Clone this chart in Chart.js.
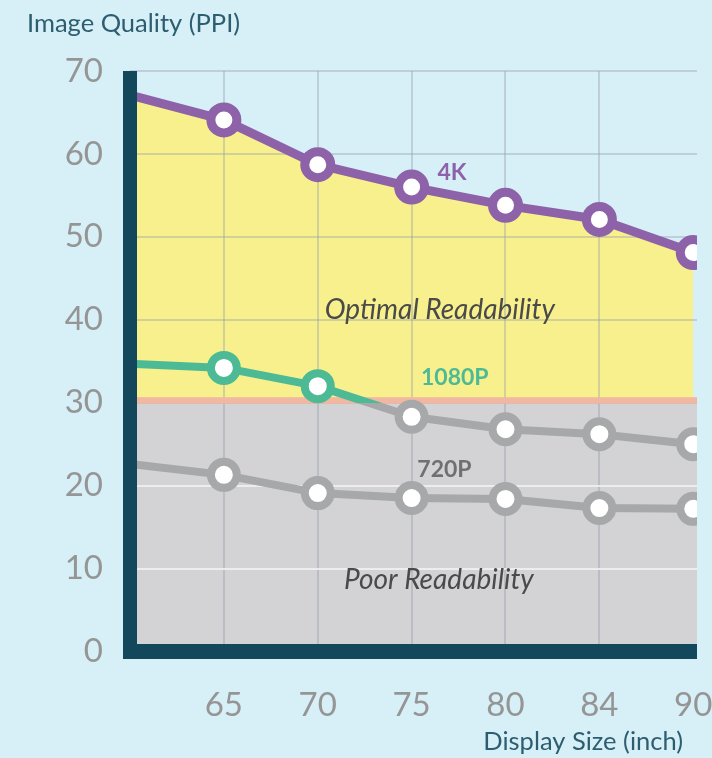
<!DOCTYPE html>
<html>
<head>
<meta charset="utf-8">
<script src="https://cdn.jsdelivr.net/npm/chart.js@4/dist/chart.umd.min.js"></script>
<style>
  html, body { margin: 0; padding: 0; background: #d7eff7; }
  canvas { display: block; }
</style>
</head>
<body>
<canvas id="myChart" width="712" height="758"></canvas>
<script>
// display size categories (first slot is the unlabeled start of the axis)
const sizes = ["", "65", "70", "75", "80", "84", "90"];
const ppi4k = [67.1, 64.1, 58.7, 56.0, 53.8, 52.1, 48.1];
const ppi1080 = [34.7, 34.2, 32.0, 28.3, 26.8, 26.2, 25.0];
const ppi720 = [22.6, 21.3, 19.1, 18.5, 18.4, 17.3, 17.2];
const yTicks = [0, 10, 20, 30, 40, 50, 60, 70];
const limiteLeitura = 30;

const roxo = "#8d62a9";
const verde = "#4dba96";
const cinza = "#a7a8aa";
const amarelo = "#f7f08c";
const cinzaFundo = "#d3d3d5";
const salmao = "#f1b7a0";
const eixo = "#13475c";

function pontos(valores) {
  return valores.map((v, i) => ({ x: i, y: v }));
}

function raios(valores) {
  return valores.map((v, i) => (i === 0 ? 0 : 13));
}

// green above the readability limit, gray below it
function cor1080(context) {
  const chart = context.chart;
  const area = chart.chartArea;
  if (!area) return verde;
  const y30 = chart.scales.y.getPixelForValue(limiteLeitura);
  const g = chart.ctx.createLinearGradient(0, area.top, 0, area.bottom);
  const s = Math.min(1, Math.max(0, (y30 - area.top) / (area.bottom - area.top)));
  g.addColorStop(0, verde);
  g.addColorStop(s, verde);
  g.addColorStop(s, cinza);
  g.addColorStop(1, cinza);
  return g;
}

const decoracao = {
  id: "decoracao",
  beforeDraw(chart) {
    const { ctx, chartArea: a, scales } = chart;
    const y30 = scales.y.getPixelForValue(limiteLeitura);
    const y0 = scales.y.getPixelForValue(0);
    ctx.save();
    ctx.fillStyle = cinzaFundo;
    ctx.fillRect(a.left, y30, a.right - a.left, y0 - y30);
    ctx.restore();
  },
  beforeDatasetsDraw(chart) {
    const { ctx, chartArea: a, scales } = chart;
    const y30 = scales.y.getPixelForValue(limiteLeitura);
    ctx.save();
    ctx.fillStyle = salmao;
    ctx.fillRect(a.left, y30 - 5.5, a.right - a.left, 6.5);
    ctx.restore();
  },
  afterDatasetsDraw(chart) {
    const { ctx, chartArea: a, scales } = chart;
    const x = scales.x;
    const y = scales.y;
    ctx.save();

    // thick axis bars
    ctx.fillStyle = eixo;
    ctx.fillRect(a.left - 7, a.top, 14, a.bottom - a.top + 7.5);
    ctx.fillRect(a.left - 7, a.bottom - 7.5, a.right - a.left + 7, 15);

    // series and region labels
    ctx.textAlign = "center";
    ctx.textBaseline = "middle";
    ctx.font = "bold 23px Lato";
    ctx.fillStyle = roxo;
    ctx.fillText("4K", x.getPixelForValue(3.43), y.getPixelForValue(57.8));
    ctx.fillStyle = verde;
    ctx.fillText("1080P", x.getPixelForValue(3.46), y.getPixelForValue(33.0));
    ctx.fillStyle = "#707070";
    ctx.fillText("720P", x.getPixelForValue(3.35), y.getPixelForValue(21.9));

    ctx.font = "italic 28px Lato";
    ctx.fillStyle = "#4a4a4a";
    ctx.fillText("Optimal Readability", x.getPixelForValue(3.3), y.getPixelForValue(41.2));
    ctx.fillText("Poor Readability", x.getPixelForValue(3.29), y.getPixelForValue(8.6));

    // axis titles
    ctx.font = "25.5px Lato";
    ctx.fillStyle = "#2d5e70";
    ctx.textBaseline = "alphabetic";
    ctx.textAlign = "left";
    ctx.fillText("Image Quality (PPI)", 27, 32);
    ctx.textAlign = "right";
    ctx.fillText("Display Size (inch)", 683, 750);
    ctx.restore();
  },
};

const ctx = document.getElementById("myChart");

new Chart(ctx, {
  type: "line",
  data: {
    datasets: [
      {
        label: "4K",
        data: pontos(ppi4k),
        borderColor: roxo,
        borderWidth: 9,
        backgroundColor: amarelo,
        fill: { value: limiteLeitura },
        pointRadius: raios(ppi4k),
        pointHoverRadius: raios(ppi4k),
        pointBorderColor: roxo,
        pointBackgroundColor: "#ffffff",
      },
      {
        label: "1080P",
        data: pontos(ppi1080),
        borderColor: cor1080,
        borderWidth: 8,
        fill: false,
        pointRadius: raios(ppi1080),
        pointHoverRadius: raios(ppi1080),
        pointBorderColor: ppi1080.map((v) => (v >= limiteLeitura ? verde : cinza)),
        pointBackgroundColor: "#ffffff",
      },
      {
        label: "720P",
        data: pontos(ppi720),
        borderColor: cinza,
        borderWidth: 8,
        fill: false,
        pointRadius: raios(ppi720),
        pointHoverRadius: raios(ppi720),
        pointBorderColor: cinza,
        pointBackgroundColor: "#ffffff",
      },
    ],
  },
  options: {
    responsive: false,
    animation: false,
    events: [],
    layout: { autoPadding: false, padding: { top: 71, right: 15, left: 0, bottom: 0 } },
    elements: {
      line: { tension: 0, borderCapStyle: "round", borderJoinStyle: "round" },
      point: { borderWidth: 6, hoverBorderWidth: 6 },
    },
    plugins: {
      legend: { display: false },
      tooltip: { enabled: false },
      filler: { drawTime: "beforeDraw" },
    },
    scales: {
      x: {
        type: "linear",
        min: 0,
        max: 6.04,
        afterBuildTicks: (scale) => {
          scale.ticks = sizes.map((s, i) => ({ value: i }));
        },
        afterFit: (scale) => {
          scale.height = 106.5;
          scale.paddingLeft = 0;
          scale.paddingRight = 0;
        },
        border: { display: false },
        grid: {
          drawTicks: false,
          lineWidth: 2,
          color: (c) => (c.index === 0 || c.index === sizes.length - 1 ? "rgba(0,0,0,0)" : "rgba(150,160,170,0.4)"),
        },
        ticks: {
          padding: 34,
          color: "#959595",
          font: { family: "Lato", size: 33 },
          callback: (v) => sizes[v],
        },
      },
      y: {
        min: 0,
        max: 70,
        afterBuildTicks: (scale) => {
          scale.ticks = yTicks.map((v) => ({ value: v }));
        },
        afterFit: (scale) => {
          scale.width = 130;
          scale.paddingTop = 0;
          scale.paddingBottom = 0;
        },
        border: { display: false },
        grid: {
          drawTicks: false,
          lineWidth: 2,
          color: (c) => (c.tick && c.tick.value < limiteLeitura ? "rgba(240,240,242,0.9)" : "rgba(150,160,170,0.4)"),
        },
        ticks: {
          padding: 27,
          color: "#959595",
          font: { family: "Lato", size: 33 },
        },
      },
    },
  },
  plugins: [decoracao],
});
</script>
</body>
</html>
